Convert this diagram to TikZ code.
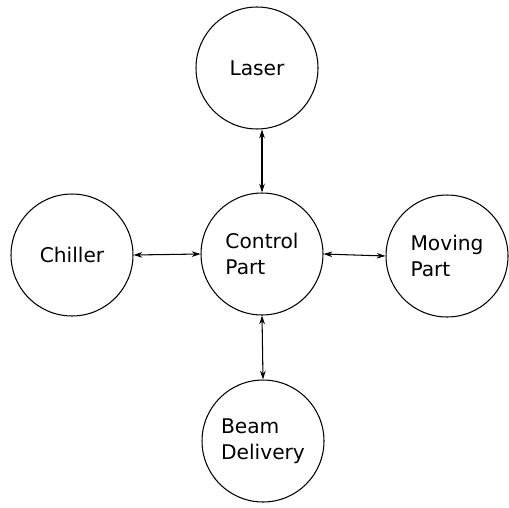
\documentclass[tikz,border=0pt]{standalone}
\usepackage{fontspec}
\setmainfont{DejaVu Sans}
\usetikzlibrary{arrows.meta}
\begin{document}
\begin{tikzpicture}[x=0.02cm,y=-0.02cm,
  unit/.style={circle,draw,line width=0.6pt,minimum size=2.44cm,inner sep=0pt,
    align=left,font=\fontsize{11.5}{15}\selectfont},
  link/.style={line width=0.6pt,{Stealth[length=5pt,width=3.2pt]}-{Stealth[length=5pt,width=3.2pt]}}]
\useasboundingbox (0,0) rectangle (509,507);
\node[unit] (laser) at (257,68) {Laser};
\node[unit] (ctrl) at (262,254) {Control\\Part};
\node[unit] (chill) at (72,255) {Chiller};
\node[unit] (move) at (447,256) {Moving\\Part};
\node[unit] (beam) at (263,441) {Beam\\Delivery};
\draw[link] (laser.south -| ctrl.north) -- (ctrl.north);
\draw[link] (chill.east) -- (ctrl.west);
\draw[link] (ctrl.east) -- (move.west);
\draw[link] (ctrl.south) -- (beam.north);
\end{tikzpicture}
\end{document}
